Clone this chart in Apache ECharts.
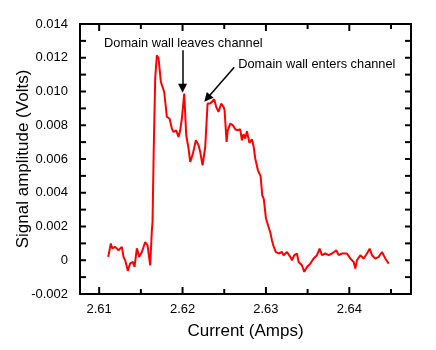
<!DOCTYPE html>
<html>
<head>
<meta charset="utf-8">
<script src="https://cdn.jsdelivr.net/npm/echarts@6/dist/echarts.min.js"></script>
<style>html,body{margin:0;padding:0;background:#fff}#c{width:436px;height:350px}</style>
</head>
<body>
<div id="c"></div>
<script>
// Current (Amps)
const current = [2.61108,2.61140,2.61156,2.61192,2.61232,2.61272,2.61292,2.61312,2.61344,2.61372,2.61404,2.61424,2.61452,2.61480,2.61512,2.61552,2.61580,2.61612,2.61632,2.61640,2.61654,2.61672,2.61692,2.61712,2.61740,2.61780,2.61812,2.61844,2.61872,2.61892,2.61924,2.61952,2.61972,2.61992,2.62020,2.62044,2.62072,2.62092,2.62124,2.62160,2.62192,2.62212,2.62240,2.62252,2.62272,2.62300,2.62332,2.62352,2.62380,2.62404,2.62432,2.62464,2.62492,2.62504,2.62528,2.62542,2.62572,2.62604,2.62632,2.62662,2.62692,2.62712,2.62732,2.62752,2.62772,2.62802,2.62832,2.62852,2.62872,2.62904,2.62936,2.62956,2.62974,2.63000,2.63032,2.63052,2.63072,2.63092,2.63118,2.63152,2.63192,2.63212,2.63252,2.63292,2.63312,2.63340,2.63372,2.63392,2.63432,2.63460,2.63492,2.63532,2.63572,2.63612,2.63644,2.63672,2.63712,2.63752,2.63792,2.63844,2.63872,2.63912,2.63972,2.64012,2.64052,2.64072,2.64092,2.64132,2.64172,2.64212,2.64244,2.64272,2.64312,2.64352,2.64392,2.64432,2.64472];
// Signal amplitude (Volts)
const signal = [0.00020,0.00099,0.00071,0.00079,0.00059,0.00079,0.00020,0.00000,-0.00063,-0.00018,-0.00010,-0.00040,0.00071,0.00020,0.00049,0.00108,0.00089,-0.00030,0.00178,0.00227,0.00652,0.01079,0.01215,0.01197,0.01057,0.00997,0.00849,0.00840,0.00780,0.00760,0.00770,0.00731,0.00770,0.00840,0.00988,0.00741,0.00662,0.00583,0.00632,0.00711,0.00681,0.00642,0.00563,0.00553,0.00671,0.00929,0.00929,0.00919,0.00954,0.00908,0.00879,0.00929,0.00908,0.00889,0.00701,0.00770,0.00810,0.00800,0.00776,0.00770,0.00776,0.00711,0.00747,0.00721,0.00764,0.00696,0.00717,0.00676,0.00603,0.00533,0.00498,0.00385,0.00364,0.00249,0.00197,0.00166,0.00119,0.00083,0.00050,0.00040,0.00049,0.00030,0.00049,0.00020,0.00000,0.00030,0.00040,-0.00010,-0.00030,-0.00069,-0.00040,-0.00020,0.00010,0.00030,0.00069,0.00030,0.00040,0.00030,0.00040,0.00059,0.00030,0.00040,0.00040,0.00010,-0.00010,-0.00049,0.00000,0.00030,0.00010,0.00040,0.00069,0.00030,0.00010,0.00020,0.00049,0.00010,-0.00020];
const xMajorTicks = [2.61, 2.62, 2.63, 2.64];
const xMinorTicks = [2.615, 2.625, 2.635, 2.645];
const yAllTicks = [-0.002,-0.001,0,0.001,0.002,0.003,0.004,0.005,0.006,0.007,0.008,0.009,0.010,0.011,0.012,0.013,0.014];
const annLeaves = {text: 'Domain wall leaves channel', at: [2.6201, 0.01286], from: [2.62, 0.01244], to: [2.62, 0.01019]};
const annEnters = {text: 'Domain wall enters channel', at: [2.62668, 0.01161], from: [2.62620, 0.01144], to: [2.62296, 0.00960]};

const FONT = 'Liberation Sans, Arial, Helvetica, sans-serif';
const chart = echarts.init(document.getElementById('c'));
const xRange = {min: 2.6077, max: 2.6474};
const yRange = {min: -0.002, max: 0.014, interval: 0.002};
const GRID = {left: 80, right: 25, top: 24, bottom: 56};
const lineStyleAxis = {color: '#000', width: 2};

// tick marks as small filled rectangles (scatter symbols) sitting inside the frame
const tickSeries = (data, size, offset) => ({
  type: 'scatter', xAxisIndex: 0, yAxisIndex: 0, silent: true, clip: false, z: 4,
  symbol: 'rect', symbolSize: size, symbolOffset: offset,
  itemStyle: {color: '#000', opacity: 1}, emphasis: {disabled: true},
  data: data
});
const xMajBottom = xMajorTicks.map(v => [v, yRange.min]);
const xMajTop = xMajorTicks.map(v => [v, yRange.max]);
const xMinBottom = xMinorTicks.map(v => [v, yRange.min]);
const xMinTop = xMinorTicks.map(v => [v, yRange.max]);
const yLeft = yAllTicks.map(v => [xRange.min, v]);
const yRight = yAllTicks.map(v => [xRange.max, v]);

chart.setOption({
  animation: false,
  grid: Object.assign({show: false, containLabel: false, outerBoundsMode: 'none'}, GRID),
  xAxis: [{
    type: 'value', position: 'bottom', min: xRange.min, max: xRange.max,
    axisLine: {show: true, onZero: false, lineStyle: lineStyleAxis},
    axisTick: {show: false},
    axisLabel: {show: true, customValues: xMajorTicks, margin: 9, color: '#000', fontSize: 13, fontFamily: FONT, formatter: v => v.toFixed(2)},
    splitLine: {show: false},
    name: 'Current (Amps)', nameLocation: 'middle', nameGap: 29,
    nameTextStyle: {fontSize: 17, fontFamily: FONT, color: '#000'}
  }, {
    type: 'value', position: 'top', min: xRange.min, max: xRange.max,
    axisLine: {show: true, onZero: false, lineStyle: lineStyleAxis},
    axisTick: {show: false}, axisLabel: {show: false}, splitLine: {show: false}
  }],
  yAxis: [{
    type: 'value', position: 'left', min: yRange.min, max: yRange.max, interval: yRange.interval,
    axisLine: {show: true, onZero: false, lineStyle: lineStyleAxis},
    axisTick: {show: false},
    axisLabel: {margin: 12, color: '#000', fontSize: 13, fontFamily: FONT, formatter: v => Math.abs(v) < 1e-9 ? '0' : v.toFixed(3)},
    splitLine: {show: false},
    name: 'Signal amplitude (Volts)', nameLocation: 'middle', nameGap: 48, nameRotate: 90, nameMoveOverlap: false,
    nameTextStyle: {fontSize: 17, fontFamily: FONT, color: '#000'}
  }, {
    type: 'value', position: 'right', min: yRange.min, max: yRange.max, interval: yRange.interval,
    axisLine: {show: true, onZero: false, lineStyle: lineStyleAxis},
    axisTick: {show: false}, axisLabel: {show: false}, splitLine: {show: false}
  }],
  series: [
    tickSeries(xMajBottom, [2, 7], [0, -3.5]),
    tickSeries(xMajTop, [2, 7], [0, 3.5]),
    tickSeries(xMinBottom, [2, 5], [0, -2.5]),
    tickSeries(xMinTop, [2, 5], [0, 2.5]),
    tickSeries(yLeft, [6, 2], [3, 0]),
    tickSeries(yRight, [6, 2], [-3, 0]),
    {
    type: 'line', xAxisIndex: 0, yAxisIndex: 0,
    data: current.map((c, i) => [c, signal[i]]),
    symbol: 'none', smooth: false,
    lineStyle: {color: '#ff0000', width: 2},
    markLine: {
      silent: true, animation: false,
      symbol: ['none', 'triangle'], symbolSize: 9, symbolKeepAspect: true,
      lineStyle: {color: '#000', width: 1.5, type: 'solid'},
      itemStyle: {color: '#000'},
      label: {show: false},
      data: [
        [{coord: annLeaves.from}, {coord: annLeaves.to}],
        [{coord: annEnters.from}, {coord: annEnters.to}]
      ]
    },
    markPoint: {
      silent: true, symbol: 'circle', symbolSize: 0,
      data: [
        {coord: annLeaves.at, label: {show: true, formatter: annLeaves.text, position: 'inside', align: 'center', verticalAlign: 'middle', color: '#000', fontSize: 12.8, fontFamily: FONT}},
        {coord: annEnters.at, label: {show: true, formatter: annEnters.text, position: 'inside', align: 'left', verticalAlign: 'middle', color: '#000', fontSize: 12.8, fontFamily: FONT}}
      ]
    }
  }]
});
</script>
</body>
</html>
